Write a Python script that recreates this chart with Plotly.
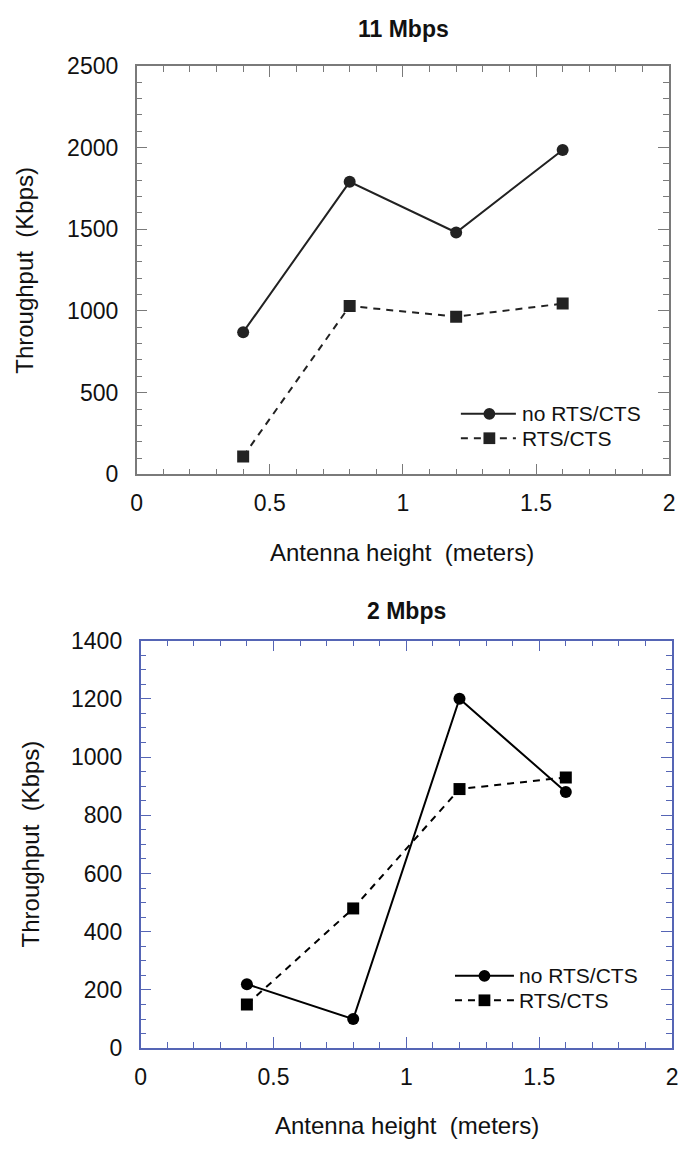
import plotly.graph_objects as go

W, H = 684, 1157

# ---- data ----
heights = [0.4, 0.8, 1.2, 1.6]
top_no_rts = [870, 1790, 1480, 1985]
top_rts = [110, 1030, 965, 1045]
bot_no_rts = [220, 100, 1200, 880]
bot_rts = [150, 480, 890, 930]
series_names = ["no RTS/CTS", "RTS/CTS"]
titles = ["11 Mbps", "2 Mbps"]
x_title = "Antenna height\u00a0 (meters)"
y_title = "Throughput\u00a0 (Kbps)"
x_ticks = [0, 0.5, 1, 1.5, 2]
x_ticklabels = ["0", "0.5", "1", "1.5", "2"]
top_y_ticks = [0, 500, 1000, 1500, 2000, 2500]
bot_y_ticks = [0, 200, 400, 600, 800, 1000, 1200, 1400]

FONT = "Liberation Sans, Arial, sans-serif"
TICK_SIZE = 23
TITLE_SIZE = 24
LEG_SIZE = 21


def px(x):
    return x / W


def py(y):
    return 1 - y / H


fig = go.Figure()

# top panel traces
fig.add_trace(go.Scatter(x=heights, y=top_no_rts, mode="lines+markers",
                         line=dict(color="#222222", width=2),
                         marker=dict(symbol="circle", size=12, color="#222222"),
                         xaxis="x", yaxis="y", showlegend=False))
fig.add_trace(go.Scatter(x=heights, y=top_rts, mode="lines+markers",
                         line=dict(color="#222222", width=2, dash="7px,6px"),
                         marker=dict(symbol="square", size=12, color="#222222"),
                         xaxis="x", yaxis="y", showlegend=False))
# bottom panel traces
fig.add_trace(go.Scatter(x=heights, y=bot_no_rts, mode="lines+markers",
                         line=dict(color="#000000", width=2),
                         marker=dict(symbol="circle", size=12, color="#000000"),
                         xaxis="x2", yaxis="y2", showlegend=False))
fig.add_trace(go.Scatter(x=heights, y=bot_rts, mode="lines+markers",
                         line=dict(color="#000000", width=2, dash="7px,6px"),
                         marker=dict(symbol="square", size=12, color="#000000"),
                         xaxis="x2", yaxis="y2", showlegend=False))

TOP_COL = "#7a7a7a"
BOT_COL = "#5565b5"


def xaxis_cfg(domain, col, anchor):
    return dict(domain=domain, range=[0, 2], anchor=anchor,
                tickvals=x_ticks, ticktext=x_ticklabels,
                ticks="inside", ticklen=11, tickwidth=1.3, tickcolor=col,
                minor=dict(dtick=0.1, ticks="inside", ticklen=6, tickwidth=1.3, tickcolor=col),
                showline=True, linecolor=col, linewidth=1.6, mirror="ticks",
                showgrid=False, zeroline=False,
                tickfont=dict(family=FONT, size=TICK_SIZE, color="#111111"),
                ticklabelstandoff=7)


def yaxis_cfg(domain, col, anchor, rng, ticks, minor):
    return dict(domain=domain, range=rng, anchor=anchor,
                tickvals=ticks,
                ticks="inside", ticklen=11, tickwidth=1.3, tickcolor=col,
                minor=dict(dtick=minor, ticks="inside", ticklen=6, tickwidth=1.3, tickcolor=col),
                showline=True, linecolor=col, linewidth=1.6, mirror="ticks",
                showgrid=False, zeroline=False,
                tickfont=dict(family=FONT, size=TICK_SIZE, color="#111111"),
                ticklabelstandoff=12)


top_box = (133, 675, 54, 472)
bot_box = (137, 678, 642, 1059)

fig.update_layout(
    width=W, height=H,
    margin=dict(l=0, r=0, t=0, b=0),
    paper_bgcolor="white", plot_bgcolor="white",
    xaxis=xaxis_cfg([px(top_box[0]), px(top_box[1])], TOP_COL, "y"),
    yaxis=yaxis_cfg([py(top_box[3]), py(top_box[2])], TOP_COL, "x", [0, 2500], top_y_ticks, 100),
    xaxis2=xaxis_cfg([px(bot_box[0]), px(bot_box[1])], BOT_COL, "y2"),
    yaxis2=yaxis_cfg([py(bot_box[3]), py(bot_box[2])], BOT_COL, "x2", [0, 1400], bot_y_ticks, 50),
    showlegend=False,
)

annotations = []
shapes = []


def text(x, y, s, size=TITLE_SIZE, angle=0, xanchor="center"):
    annotations.append(dict(x=px(x), y=py(y), xref="paper", yref="paper", text=s,
                            showarrow=False, textangle=angle, xanchor=xanchor, yanchor="middle",
                            font=dict(family=FONT, size=size, color="#111111")))


# titles
text(405, 16, "<b>" + titles[0] + "</b>", size=23)
text(408, 612, "<b>" + titles[1] + "</b>", size=23)
# axis titles
text(403, 552, x_title)
text(408, 1138, x_title)
text(18, 263, y_title, angle=-90)
text(25, 850, y_title, angle=-90)


def legend(x0, x1, xm, xt, y1, y2, col):
    # row 1: solid + circle
    shapes.append(dict(type="line", xref="paper", yref="paper", x0=px(x0), x1=px(x1),
                       y0=py(y1), y1=py(y1), line=dict(color=col, width=2)))
    r = 6
    shapes.append(dict(type="circle", xref="paper", yref="paper", x0=px(xm - r), x1=px(xm + r),
                       y0=py(y1 + r), y1=py(y1 - r), fillcolor=col, line=dict(color=col, width=0)))
    text(xt, y1, series_names[0], size=LEG_SIZE, xanchor="left")
    # row 2: dashed + square
    shapes.append(dict(type="line", xref="paper", yref="paper", x0=px(x0), x1=px(x1),
                       y0=py(y2), y1=py(y2), line=dict(color=col, width=2, dash="7px,6px")))
    s = 6
    shapes.append(dict(type="rect", xref="paper", yref="paper", x0=px(xm - s), x1=px(xm + s),
                       y0=py(y2 + s), y1=py(y2 - s), fillcolor=col, line=dict(color=col, width=0)))
    text(xt, y2, series_names[1], size=LEG_SIZE, xanchor="left")


legend(463, 519, 492, 523, 410, 435, "#222222")
legend(457, 517, 487, 520, 985, 1010, "#000000")

fig.update_layout(annotations=annotations, shapes=shapes)

fig.write_html("out.html")
